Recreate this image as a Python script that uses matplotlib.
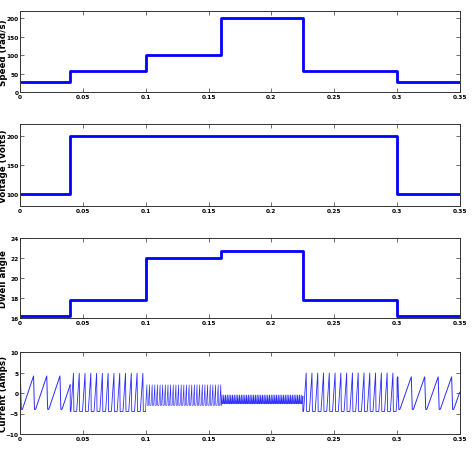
import numpy as np
import matplotlib.pyplot as plt

# step signals: switching times and levels
t_switch = [0.0, 0.04, 0.1, 0.16, 0.225, 0.3, 0.35]
speed = [26, 57, 100, 200, 57, 26]
voltage = [100, 200, 200, 200, 200, 100]
dwell = [16.25, 17.8, 22.0, 22.7, 17.8, 16.25]

# current waveform segments
seg_start = [0.0, 0.04, 0.1, 0.16, 0.225, 0.3]
seg_end = [0.04, 0.1, 0.16, 0.225, 0.3, 0.35]
seg_period = [0.0105, 0.0046, 0.0021, 0.0014, 0.0046, 0.0107]
seg_phase = [0.0019, 0.0005, 0.0, 0.0, 0.0006, 0.0022]
seg_peak = [4.2, 5.0, 2.0, -0.5, 5.0, 4.0]
seg_trough = [-4.0, -4.5, -3.0, -2.6, -4.5, -4.0]
seg_rise = [0.85, 0.45, 0.45, 0.5, 0.45, 0.85]
seg_lw = [0.7, 0.6, 0.45, 0.6, 0.6, 0.7]

def step_xy(ts, vals):
    x, y = [], []
    for i, v in enumerate(vals):
        x += [ts[i], ts[i + 1]]
        y += [v, v]
    return x, y

fig = plt.figure(figsize=(4.73, 4.56), dpi=100)
W, H = 473, 456
boxes = [(12, 93), (125, 207), (239, 319), (353, 435)]
axes = []
for top, bot in boxes:
    ax = fig.add_axes([20 / W, 1 - bot / H, (460 - 20) / W, (bot - top) / H])
    axes.append(ax)

xs, ys = step_xy(t_switch, speed)
axes[0].plot(xs, ys, color="#0000ff", lw=2)
axes[0].set_ylim(0, 220)
axes[0].set_yticks([0, 50, 100, 150, 200])
axes[0].set_ylabel("Speed (rad/s)")

xs, ys = step_xy(t_switch, voltage)
axes[1].plot(xs, ys, color="#0000ff", lw=2)
axes[1].set_ylim(80, 220)
axes[1].set_yticks([100, 150, 200])
axes[1].set_ylabel("Voltage (Volts)")

xs, ys = step_xy(t_switch, dwell)
axes[2].plot(xs, ys, color="#0000ff", lw=2)
axes[2].set_ylim(16, 24)
axes[2].set_yticks([16, 18, 20, 22, 24])
axes[2].set_ylabel("Dwell angle")

prev = None
for s, e, p, ph, hi, lo, r, lw in zip(seg_start, seg_end, seg_period, seg_phase,
                                      seg_peak, seg_trough, seg_rise, seg_lw):
    tt = np.arange(s, e, p / 40)
    frac = ((tt - s - ph) / p) % 1.0
    fall = 0.06
    y = np.where(frac < r, lo + (hi - lo) * frac / r,
                 np.where(frac < r + fall, hi - (hi - lo) * (frac - r) / fall, lo))
    if prev is not None:
        tt = np.concatenate([[prev[0]], tt])
        y = np.concatenate([[prev[1]], y])
    axes[3].plot(tt, y, color="#2b2bff", lw=lw)
    prev = (tt[-1], y[-1])
axes[3].set_ylim(-10, 10)
axes[3].set_yticks([-10, -5, 0, 5, 10])
axes[3].set_ylabel("Current (Amps)")

tick_font = ["Liberation Sans Narrow", "DejaVu Sans"]
for ax in axes:
    ax.set_xlim(0, 0.35)
    ax.set_xticks([0, 0.05, 0.1, 0.15, 0.2, 0.25, 0.3, 0.35])
    ax.set_xticklabels(["0", "0.05", "0.1", "0.15", "0.2", "0.25", "0.3", "0.35"])
    ax.tick_params(direction="in", length=3, width=0.6, color="#555555",
                   labelsize=4.2, pad=1.5, top=True, right=True)
    ax.tick_params(axis="y", pad=1)
    for lab in ax.get_xticklabels() + ax.get_yticklabels():
        lab.set_fontweight("bold")
        lab.set_family(tick_font)
    ax.yaxis.label.set_fontsize(6.3)
    ax.yaxis.label.set_fontweight("bold")
    ax.yaxis.set_label_coords(-0.027, 0.5)
    for sp in ax.spines.values():
        sp.set_linewidth(0.7)
        sp.set_color("#333333")

fig.savefig("out.png", dpi=100)
